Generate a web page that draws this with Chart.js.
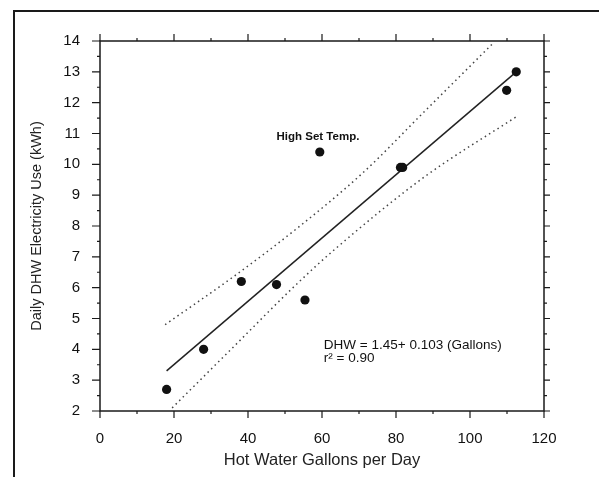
<!DOCTYPE html>
<html><head><meta charset="utf-8">
<script src="https://cdn.jsdelivr.net/npm/chart.js@4"></script>
<style>
html,body{margin:0;padding:0;background:#fff;}
#wrap{position:relative;width:599px;height:479px;overflow:hidden;}
#frame{position:absolute;left:13px;top:10px;right:-4px;bottom:2px;border-top:2px solid #1a1a1a;border-left:2px solid #1a1a1a;pointer-events:none;}
canvas{position:absolute;left:0;top:0;}
</style></head><body>
<div id="wrap"><canvas id="c" width="599" height="479"></canvas><div id="frame"></div></div>
<script>
const gallons = [18, 28, 38.2, 47.7, 55.4, 59.4, 81.2, 81.8, 109.9, 112.5];
const kwh     = [2.7, 4.0, 6.2, 6.1, 5.6, 10.4, 9.9, 9.9, 12.4, 13.0];
// Regression line endpoints
const fitX = [18, 112.5];
const fitY = [3.3, 13.0];
// Dotted prediction bands
const upperX = [17.6, 36, 53, 71, 88, 106];
const upperY = [4.8, 6.35, 7.9, 9.72, 11.75, 13.9];
const lowerX = [19.5, 36, 53.2, 64, 88, 112.6];
const lowerY = [2.1, 4.07, 6.12, 7.3, 9.62, 11.55];
// Axis ticks
const xTickValues = [0, 20, 40, 60, 80, 100, 120];
const yTickValues = [2, 3, 4, 5, 6, 7, 8, 9, 10, 11, 12, 13, 14];
// Texts
const xTitle = 'Hot Water Gallons per Day';
const yTitle = 'Daily DHW Electricity Use (kWh)';
const noteText = 'High Set Temp.';
const equationLines = ['DHW = 1.45+ 0.103 (Gallons)', 'r\u00B2 = 0.90'];

const toXY = (xs, ys) => xs.map((v, i) => ({x: v, y: ys[i]}));

const boxPlugin = {
  id: 'box',
  beforeDatasetsDraw(chart) {
    const {ctx, chartArea: a, scales: {x, y}} = chart;
    ctx.save();
    ctx.strokeStyle = '#1a1a1a';
    ctx.lineWidth = 1.5;
    ctx.strokeRect(a.left, a.top, a.right - a.left, a.bottom - a.top);
    ctx.lineWidth = 1.2;
    ctx.beginPath();
    for (let v = x.min; v <= x.max + 1e-9; v += 10) {
      const px = x.getPixelForValue(v);
      const major = Math.round(v) % 20 === 0;
      const Lb = major ? 7 : 3, Lt = major ? 7 : 3;
      ctx.moveTo(px, a.bottom); ctx.lineTo(px, a.bottom + Lb);
      ctx.moveTo(px, a.top); ctx.lineTo(px, a.top - Lt);
    }
    for (let v = y.min; v <= y.max + 1e-9; v += 0.5) {
      const py = y.getPixelForValue(v);
      const major = Math.abs(v - Math.round(v)) < 1e-6;
      const Ll = major ? 8 : 3, Lr = major ? 6 : 3;
      ctx.moveTo(a.left, py); ctx.lineTo(a.left - Ll, py);
      ctx.moveTo(a.right, py); ctx.lineTo(a.right + Lr, py);
    }
    ctx.stroke();
    ctx.restore();
  },
  afterDraw(chart) {
    const {ctx, scales: {x, y}} = chart;
    ctx.save();
    ctx.fillStyle = '#111';
    ctx.font = 'bold 11.5px "Liberation Sans", Arial, sans-serif';
    ctx.textAlign = 'center';
    ctx.textBaseline = 'middle';
    ctx.fillText(noteText, x.getPixelForValue(58.9), y.getPixelForValue(10.88));
    ctx.font = '13.5px "Liberation Sans", Arial, sans-serif';
    ctx.textAlign = 'left';
    ctx.fillText(equationLines[0], x.getPixelForValue(60.5), y.getPixelForValue(4.12));
    ctx.fillText(equationLines[1], x.getPixelForValue(60.5), y.getPixelForValue(3.72));
    ctx.restore();
  }
};

new Chart(document.getElementById('c'), {
  type: 'scatter',
  data: {
    datasets: [
      {data: toXY(gallons, kwh), pointRadius: 4.6, pointBackgroundColor: '#111', pointBorderColor: '#111', pointBorderWidth: 0, order: 0},
      {data: toXY(fitX, fitY), showLine: true, borderColor: '#222', borderWidth: 1.5, pointRadius: 0, fill: false, order: 1},
      {data: toXY(upperX, upperY), showLine: true, borderColor: '#444', borderWidth: 1.5, borderDash: [1.5, 3.5], pointRadius: 0, fill: false, cubicInterpolationMode: 'monotone', order: 2},
      {data: toXY(lowerX, lowerY), showLine: true, borderColor: '#444', borderWidth: 1.5, borderDash: [1.5, 3.5], pointRadius: 0, fill: false, cubicInterpolationMode: 'monotone', order: 2}
    ]
  },
  options: {
    responsive: false,
    animation: false,
    devicePixelRatio: 1,
    layout: {padding: {top: 41, right: 55, left: 0, bottom: 0}},
    plugins: {legend: {display: false}, tooltip: {enabled: false}},
    scales: {
      x: {
        type: 'linear', min: 0, max: 120,
        afterBuildTicks: s => { s.ticks = xTickValues.map(v => ({value: v})); },
        afterFit: s => { s.height = 68; },
        grid: {display: false},
        border: {display: false},
        ticks: {padding: 11, color: '#111', font: {size: 15, family: '"Liberation Sans", Arial, sans-serif'}},
        title: {display: true, text: xTitle, color: '#222', padding: {top: 4, bottom: 9}, font: {size: 16.5, family: '"Liberation Sans", Arial, sans-serif'}}
      },
      y: {
        type: 'linear', min: 2, max: 14,
        afterBuildTicks: s => { s.ticks = yTickValues.map(v => ({value: v})); },
        afterFit: s => { s.width = 100; },
        grid: {display: false},
        border: {display: false},
        ticks: {padding: 12, color: '#111', font: {size: 15, family: '"Liberation Sans", Arial, sans-serif'}},
        title: {display: true, text: yTitle, color: '#222', padding: {top: 28, bottom: 0}, font: {size: 14.5, family: '"Liberation Sans", Arial, sans-serif'}}
      }
    }
  },
  plugins: [boxPlugin]
});
</script>
</body></html>
